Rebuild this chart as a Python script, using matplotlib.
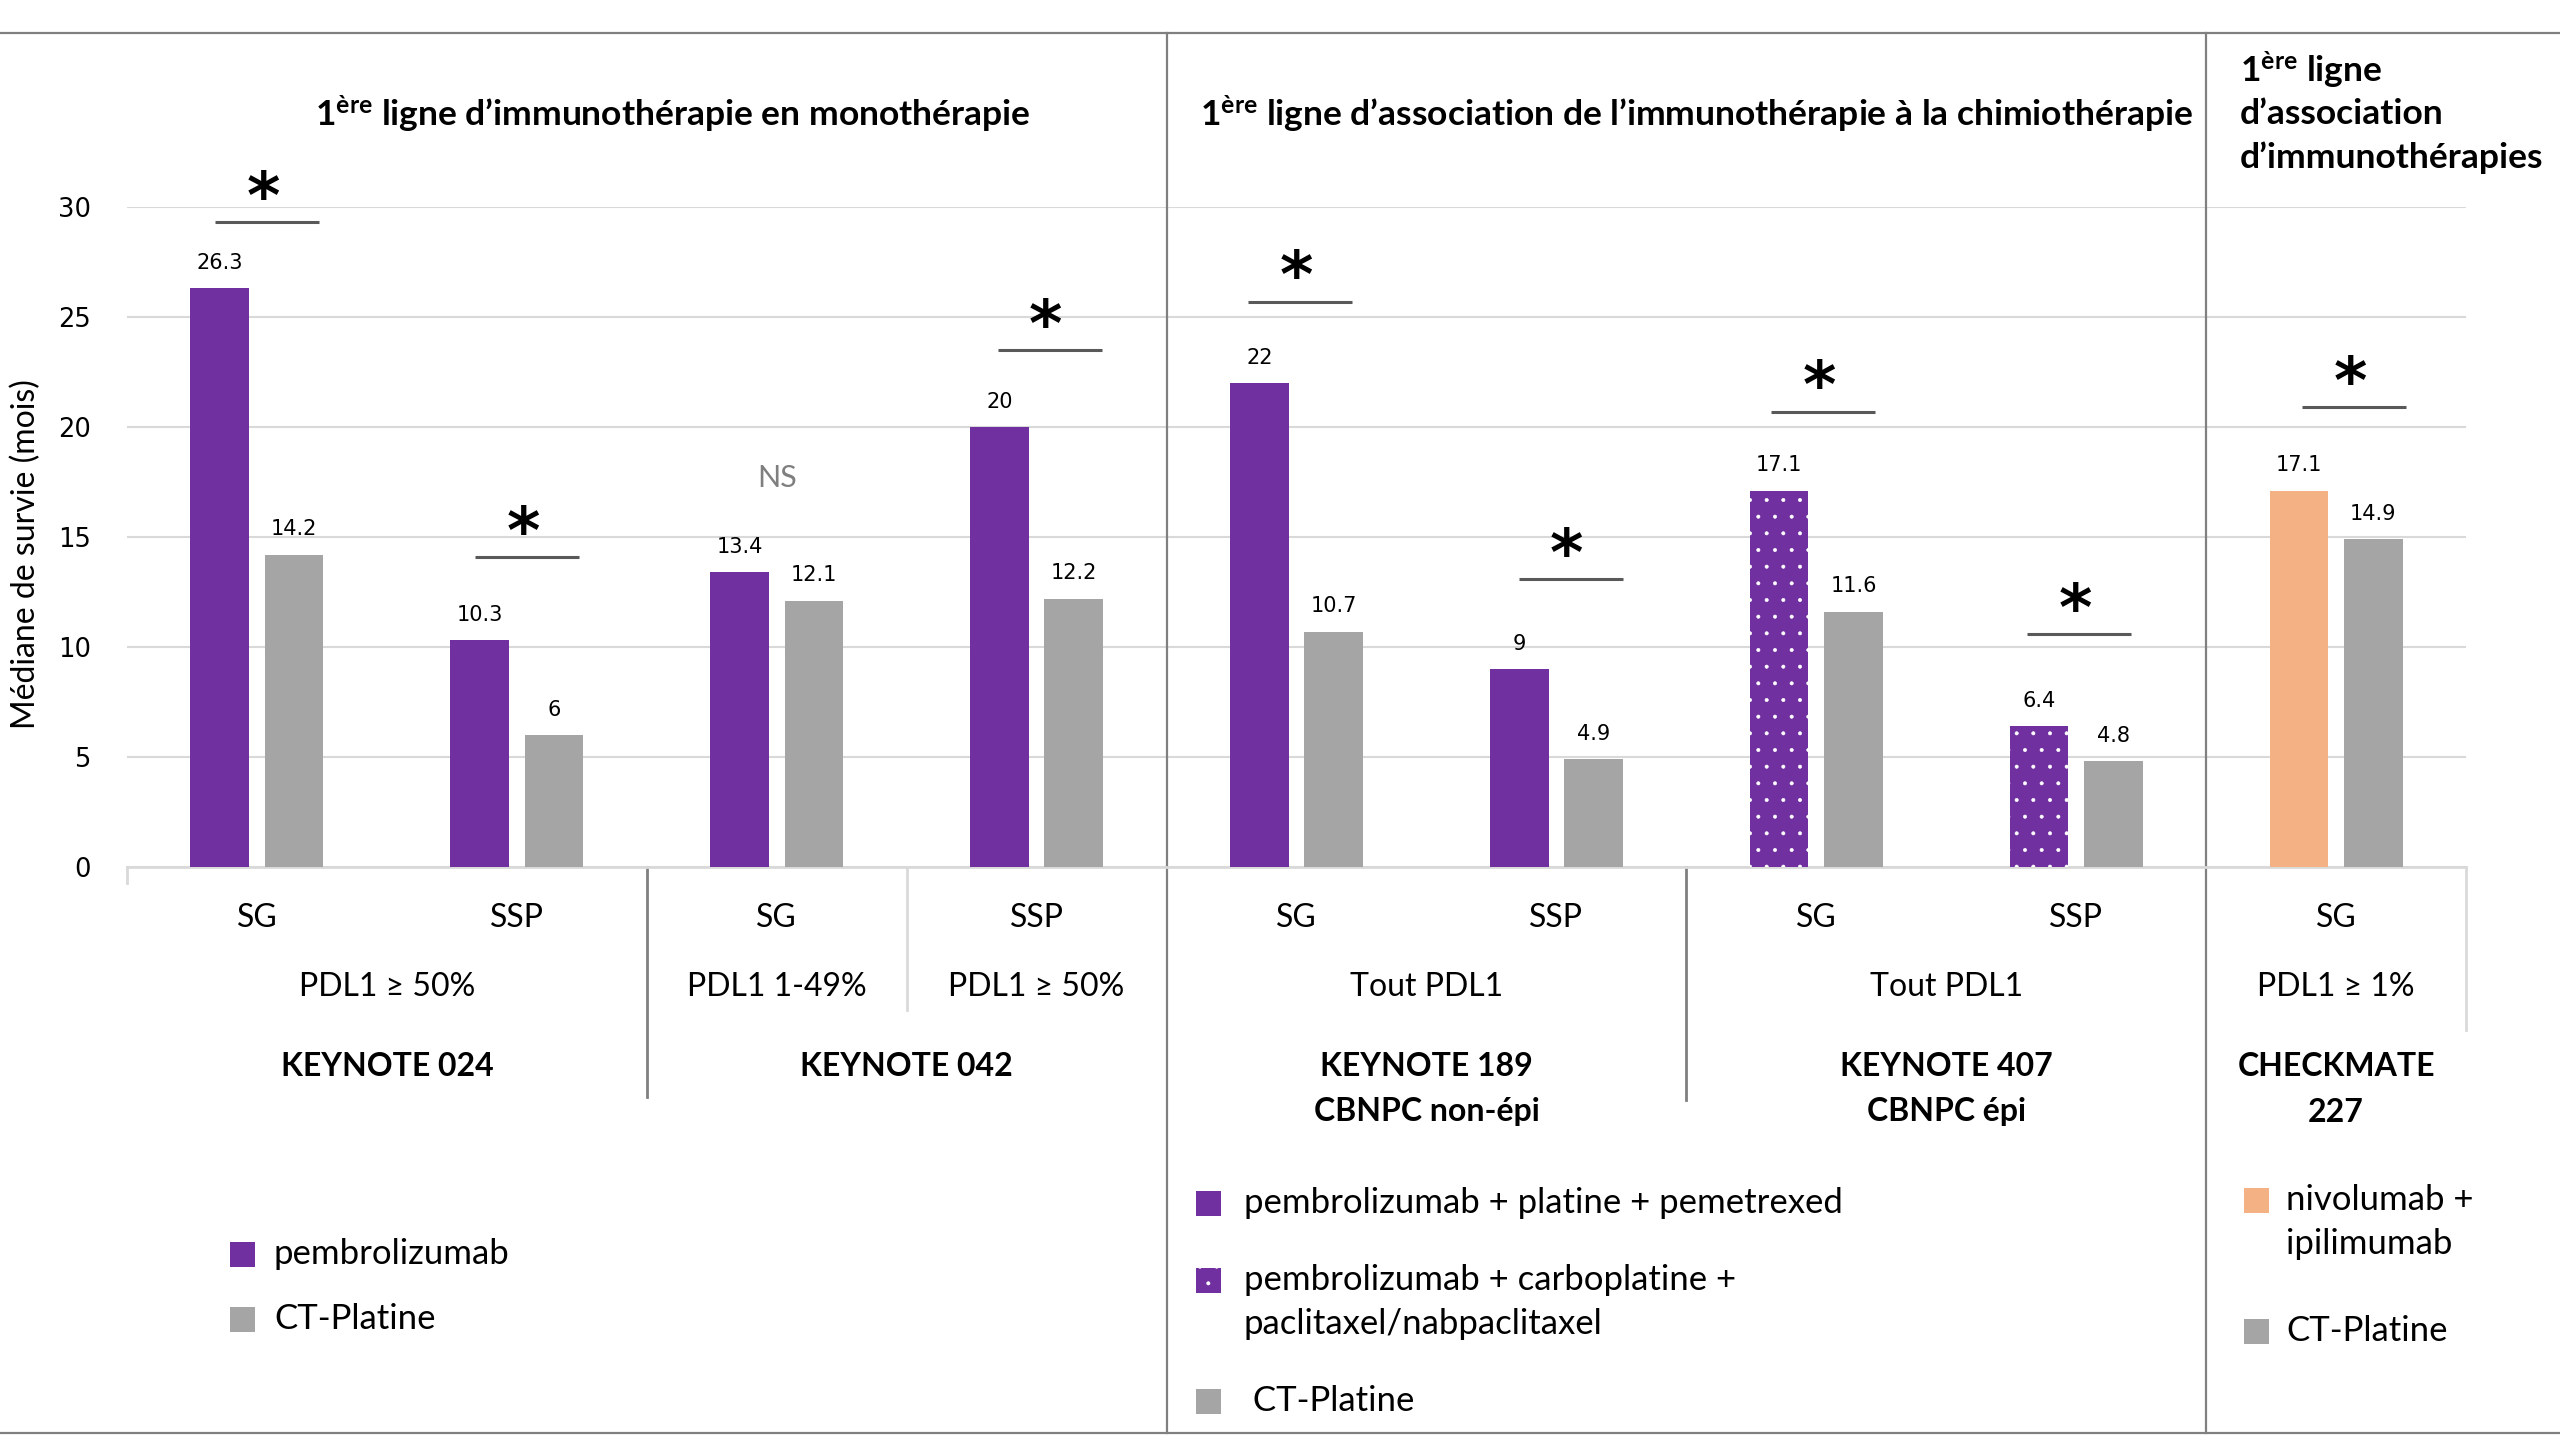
import matplotlib
matplotlib.use("Agg")
import matplotlib.pyplot as plt
from matplotlib.patches import Rectangle
from matplotlib.transforms import blended_transform_factory

# ---- data ----
outcomes = ["SG", "SSP", "SG", "SSP", "SG", "SSP", "SG", "SSP", "SG"]
immuno = [26.3, 10.3, 13.4, 20, 22, 9, 17.1, 6.4, 17.1]
chemo = [14.2, 6, 12.1, 12.2, 10.7, 4.9, 11.6, 4.8, 14.9]
immuno_kind = ["pembro", "pembro", "pembro", "pembro", "pembro", "pembro", "dots", "dots", "nivo"]
sig_marks = ["*", "*", "NS", "*", "*", "*", "*", "*", "*"]
sig_levels = [29.3, 14.1, 17.7, 23.5, 25.7, 13.1, 20.7, 10.6, 20.9]

pdl1_groups = [("PDL1 ≥ 50%", 0, 1), ("PDL1 1-49%", 2, 2), ("PDL1 ≥ 50%", 3, 3),
               ("Tout PDL1", 4, 5), ("Tout PDL1", 6, 7), ("PDL1 ≥ 1%", 8, 8)]
trial_groups = [("KEYNOTE 024", 0, 1), ("KEYNOTE 042", 2, 3),
                ("KEYNOTE 189\nCBNPC non-épi", 4, 5), ("KEYNOTE 407\nCBNPC épi", 6, 7),
                ("CHECKMATE\n227", 8, 8)]

header_mono = r"$\mathbf{1}^{\mathbf{ère}}$ ligne d’immunothérapie en monothérapie"
header_chemo = r"$\mathbf{1}^{\mathbf{ère}}$ ligne d’association de l’immunothérapie à la chimiothérapie"
header_combo = [r"$\mathbf{1}^{\mathbf{ère}}$ ligne", "d’association", "d’immunothérapies"]

legend_left = ["pembrolizumab", "CT-Platine"]
legend_mid = ["pembrolizumab + platine + pemetrexed",
              "pembrolizumab + carboplatine +\npaclitaxel/nabpaclitaxel", " CT-Platine"]
legend_right = ["nivolumab +\nipilimumab", "CT-Platine"]

PURPLE = "#7030A0"
GREY = "#A5A5A5"
ORANGE = "#F4B183"
kind_color = {"pembro": PURPLE, "dots": PURPLE, "nivo": ORANGE}

plt.rcParams['font.family'] = ['Lato', 'DejaVu Sans']
plt.rcParams['mathtext.fontset'] = 'custom'
plt.rcParams['mathtext.rm'] = 'Lato'
plt.rcParams['mathtext.bf'] = 'Lato:bold'
plt.rcParams['mathtext.it'] = 'Lato:italic'
plt.rcParams['hatch.linewidth'] = 0.4

W, H = 2560, 1440
fig = plt.figure(figsize=(25.6, 14.4), dpi=100)


def fx(px):
    return px / W


def fy(py):
    return 1 - py / H


ax = fig.add_axes([fx(127), fy(867), fx(2466) - fx(127), fy(207) - fy(867)])
ax.set_xlim(-0.5, 8.5)
ax.set_ylim(0, 30)
tr = blended_transform_factory(ax.transData, fig.transFigure)

off = 0.143
bw = 0.226
x = list(range(len(outcomes)))

for i in x:
    ax.bar(i - off, immuno[i], bw, color=kind_color[immuno_kind[i]], zorder=3)
    if immuno_kind[i] == "dots":
        ax.bar(i - off, immuno[i], bw, facecolor="none", edgecolor="white",
               hatch=".", linewidth=0, zorder=4)
    ax.bar(i + off, chemo[i], bw, color=GREY, zorder=3)

# value labels
for i in x:
    for xx, v in [(i - off, immuno[i]), (i + off, chemo[i])]:
        ax.annotate(f"{v:g}", (xx, v), xytext=(0, 14), textcoords="offset points",
                    ha="center", va="baseline", fontsize=15, family="DejaVu Sans",
                    color="black", zorder=5)

# significance marks (small horizontal shift of each bar, as in the original)
sig_dx = [0.04, 0.04, 0.02, 0.05, 0.015, 0.055, 0.025, 0.012, 0.07]
for i in x:
    cx = i + sig_dx[i]
    if sig_marks[i] == "*":
        ax.plot([cx - 0.2, cx + 0.2], [sig_levels[i]] * 2, color="#595959",
                lw=2.2, clip_on=False, solid_capstyle="butt", zorder=5)
        ax.annotate("*", (cx - 0.015, sig_levels[i]), xytext=(0, 3), textcoords="offset points",
                    ha="center", va="baseline", fontsize=46, fontweight="bold",
                    family="DejaVu Sans", annotation_clip=False)
    else:
        ax.text(i, sig_levels[i], sig_marks[i], ha="center", va="center",
                fontsize=22, color="#7F7F7F")

# axes styling
ax.set_yticks(range(0, 31, 5))
ax.set_xticks([])
ax.tick_params(axis="y", length=0, pad=26, labelsize=18.5)
for lab in ax.get_yticklabels():
    lab.set_family("DejaVu Sans")
ax.yaxis.grid(True, color="#D9D9D9", lw=1.5, zorder=0)
ax.set_axisbelow(True)
for s in ["top", "right", "left"]:
    ax.spines[s].set_visible(False)
ax.spines["bottom"].set_color("#D9D9D9")
ax.spines["bottom"].set_linewidth(2)
fig.text(fx(26), fy(554), "Médiane de survie (mois)", rotation=90, ha="center",
         va="center", fontsize=23)

# category axis labels
for i in x:
    ax.text(i, fy(918), outcomes[i], transform=tr, ha="center", va="center", fontsize=23)
for name, a, b in pdl1_groups:
    ax.text((a + b) / 2, fy(987), name, transform=tr, ha="center", va="center", fontsize=23)
for name, a, b in trial_groups:
    for k, line in enumerate(name.split("\n")):
        ax.text((a + b) / 2, fy(1066 + 46 * k), line, transform=tr, ha="center",
                va="center", fontsize=23, fontweight="bold")

# separators under the category axis
seps = [(-0.5, 883, "#D9D9D9"), (1.5, 1097, "#808080"), (2.5, 1010, "#D9D9D9"),
        (5.5, 1100, "#808080"), (8.5, 1030, "#D9D9D9")]
for sx, yend, c in seps:
    ax.plot([sx, sx], [fy(867), fy(yend)], transform=tr, color=c, lw=2, clip_on=False)
for sx in [3.5, 7.5]:
    ax.plot([sx, sx], [fy(33), fy(1433)], transform=tr, color="#808080", lw=1.6, clip_on=False)

# top and bottom rules
for yy in [33, 1433]:
    fig.add_artist(plt.Line2D([0, 1], [fy(yy), fy(yy)], color="#808080", lw=1.6))

# section headers
fig.text(fx(673), fy(114), header_mono, ha="center", va="center", fontsize=25.5, fontweight="bold")
fig.text(fx(1697), fy(114), header_chemo, ha="center", va="center", fontsize=25.5, fontweight="bold")
for k, line in enumerate(header_combo):
    fig.text(fx(2240), fy(70 + 44 * k), line, ha="left", va="center", fontsize=25.5,
             fontweight="bold")


# legends
def legend_item(x_sq, y_c, color, text, x_txt, hatch=None, line_gap=44):
    sz = 25
    fig.add_artist(Rectangle((fx(x_sq - sz / 2), fy(y_c + sz / 2)), sz / W, sz / H,
                             facecolor=color, edgecolor="none"))
    if hatch:
        fig.add_artist(Rectangle((fx(x_sq - sz / 2), fy(y_c + sz / 2)), sz / W, sz / H,
                                 facecolor="none", edgecolor="white", hatch=hatch, lw=0))
    for k, line in enumerate(text.split("\n")):
        fig.text(fx(x_txt), fy(y_c + line_gap * k), line, ha="left", va="center", fontsize=25)


legend_item(242, 1254, PURPLE, legend_left[0], 274)
legend_item(242, 1319, GREY, legend_left[1], 274)
legend_item(1208, 1203, PURPLE, legend_mid[0], 1244)
legend_item(1208, 1280, PURPLE, legend_mid[1], 1244, hatch=".")
legend_item(1208, 1401, GREY, legend_mid[2], 1244)
legend_item(2256, 1200, ORANGE, legend_right[0], 2286)
legend_item(2256, 1331, GREY, legend_right[1], 2286)

fig.savefig("out.png", dpi=100, facecolor="white")
